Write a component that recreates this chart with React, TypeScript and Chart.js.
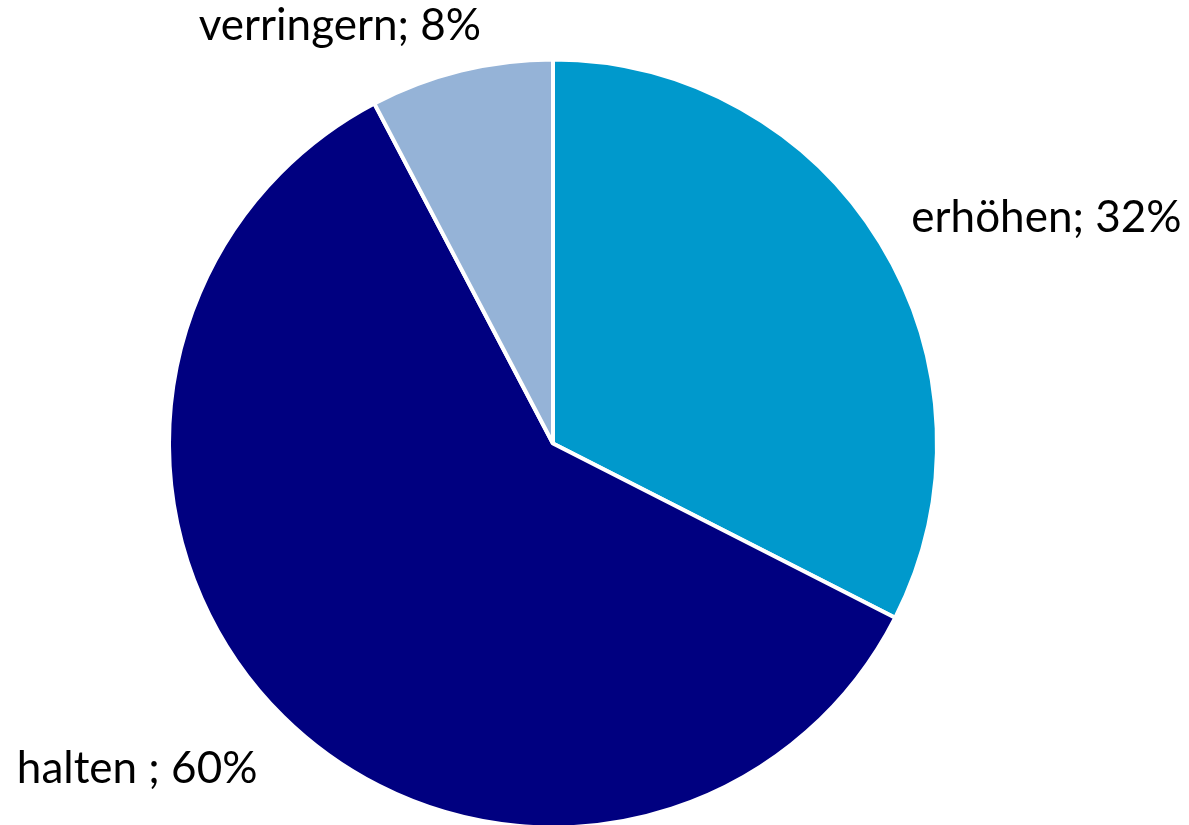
import React, { useEffect, useRef } from "react";
import { Chart, registerables } from "chart.js";

Chart.register(...registerables);

const categories = ["erhöhen", "halten ", "verringern"];
const shares = [32.5, 59.8, 7.7];
const labelTexts = ["erhöhen; 32%", "halten ; 60%", "verringern; 8%"];
const sliceColors = ["#0099CC", "#000080", "#95B3D7"];

// label anchor offsets, as fractions of the pie radius (x, y) from its centre
const labelOffsets = [
  [1.285, -0.552],
  [-1.083, 0.884],
  [-0.555, -1.052],
];

const labelPlugin = {
  id: "sliceLabels",
  afterDatasetsDraw(chart: any) {
    const meta = chart.getDatasetMeta(0);
    const ctx = chart.ctx;
    ctx.save();
    ctx.font = '44px Lato';
    ctx.fillStyle = "#000000";
    ctx.textAlign = "center";
    ctx.textBaseline = "alphabetic";
    meta.data.forEach((arc: any, i: number) => {
      const r = arc.outerRadius;
      const [fx, fy] = labelOffsets[i];
      ctx.fillText(labelTexts[i], arc.x + fx * r, arc.y + fy * r);
    });
    ctx.restore();
  },
};

export default function App() {
  const ref = useRef<HTMLCanvasElement>(null);
  useEffect(() => {
    if (!ref.current) return;
    const chart = new Chart(ref.current, {
      type: "pie",
      data: {
        labels: categories,
        datasets: [
          {
            data: shares,
            backgroundColor: sliceColors,
            borderColor: "#ffffff",
            borderWidth: 4,
            radius: 384,
            clip: false,
          } as any,
        ],
      },
      options: {
        animation: false,
        responsive: false,
        layout: { padding: { left: 170, right: 253, top: 62, bottom: 0 } },
        plugins: { legend: { display: false }, tooltip: { enabled: false } },
      },
      plugins: [labelPlugin],
    });
    return () => chart.destroy();
  }, []);
  return (
    <div style={{ position: "fixed", left: 0, top: 0, width: 1189, height: 825, background: "#ffffff" }}>
      <canvas ref={ref} width={1189} height={825} style={{ width: 1189, height: 825, display: "block" }} />
    </div>
  );
}
